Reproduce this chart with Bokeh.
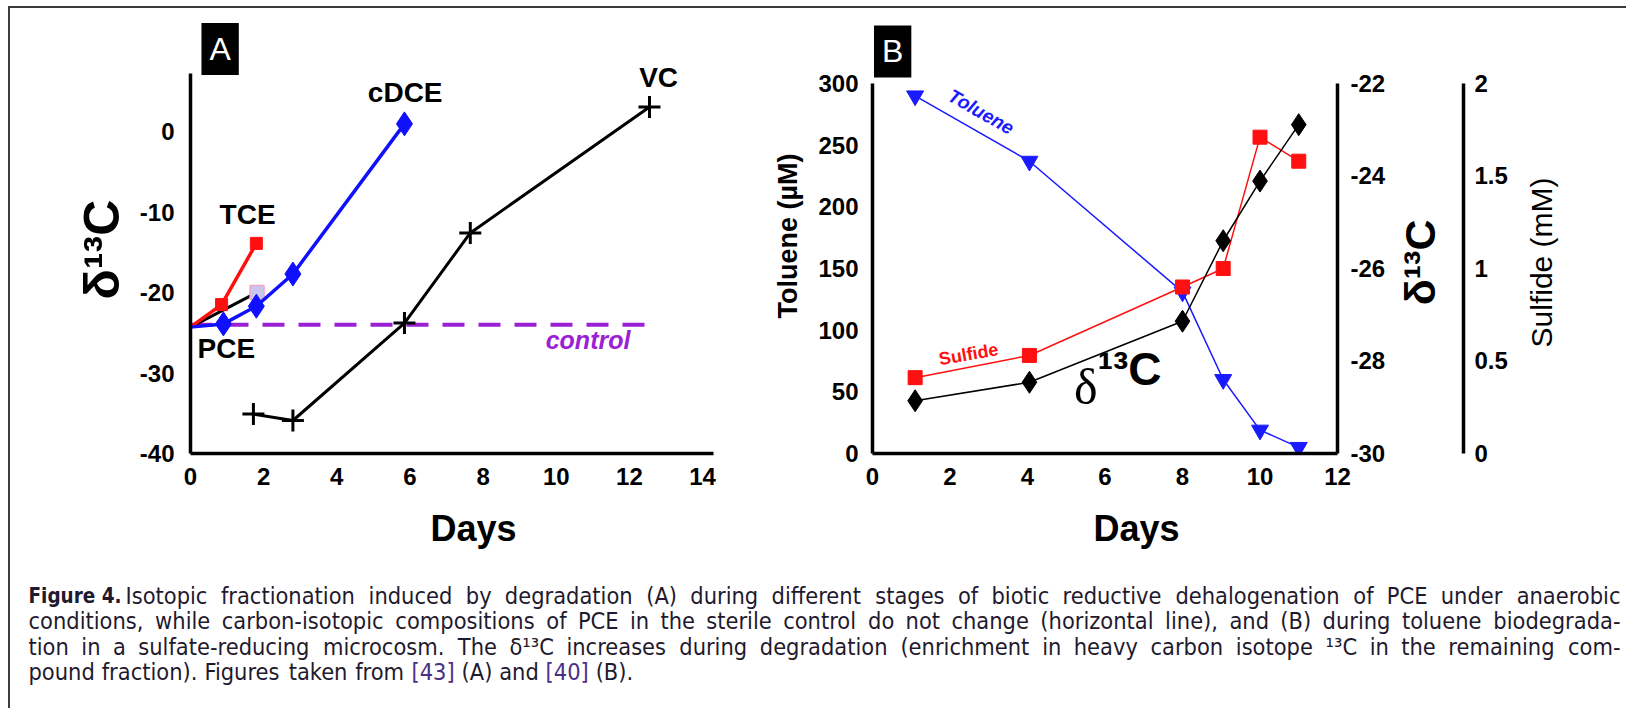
import math
from bokeh.plotting import figure
from bokeh.models import Range1d, LinearAxis, Label
from bokeh.layouts import row, column
from bokeh.embed import file_html
from bokeh.resources import INLINE
from bokeh.core.properties import value

SANS = "Liberation Sans"
CAPF = "DejaVu Sans Condensed"

# ---------------- Panel A data ----------------
a_x_ticks = [0, 2, 4, 6, 8, 10, 12, 14]
a_y_ticks = [-40, -30, -20, -10, 0]
tce_days = [0.0, 0.85, 1.8]
tce_d13c = [-24.3, -21.5, -13.9]
pce_days = [0.0, 1.82]
pce_d13c = [-24.3, -20.0]
cdce_days = [0.0, 0.9, 1.8, 2.8, 5.85]
cdce_d13c = [-24.3, -23.9, -21.7, -17.7, 0.95]
vc_days = [1.72, 2.8, 5.85, 7.65, 12.55]
vc_d13c = [-35.1, -35.9, -23.8, -12.6, 3.05]
control_days = [0.0, 12.72]
control_d13c = [-24.0, -24.0]

# ---------------- Panel B data ----------------
b_x_ticks = [0, 2, 4, 6, 8, 10, 12]
toluene_ticks = [0, 50, 100, 150, 200, 250, 300]
d13c_ticks = [-30, -28, -26, -24, -22]
sulfide_ticks = [0, 0.5, 1, 1.5, 2]
b_days = [1.1, 4.05, 8.0, 9.05, 10.0, 11.0]
toluene_uM = [290, 237, 131, 60, 19, 5]
sulfide_mM = [0.41, 0.53, 0.90, 1.00, 1.71, 1.58]
d13c_b = [-28.86, -28.46, -27.14, -25.40, -24.11, -22.89]

caption_bold = "Figure 4."
caption_lines = [
    "Isotopic fractionation induced by degradation (A) during different stages of biotic reductive dehalogenation of PCE under anaerobic",
    "conditions, while carbon-isotopic compositions of PCE in the sterile control do not change (horizontal line), and (B) during toluene biodegrada-",
    "tion in a sulfate-reducing microcosm. The \u03b4\u00b9\u00b3C increases during degradation (enrichment in heavy carbon isotope \u00b9\u00b3C in the remaining com-",
    "pound fraction). Figures taken from [43] (A) and [40] (B).",
]
caption_refs = ["[43]", "[40]"]

# shared vertical geometry (px)
PANEL_H = 500
BORDER_TOP = 10
BORDER_BOTTOM = 55
A_YRANGE = (-40, 14.04)
B_TRANGE = (0, 352.7)

# approximate advance widths (em) of DejaVu Sans, used to set the words of the justified caption
EM = {" ": .318, "a": .613, "b": .635, "c": .550, "d": .635, "e": .615, "f": .352, "g": .635,
      "h": .634, "i": .278, "j": .278, "k": .579, "l": .278, "m": .974, "n": .634, "o": .612,
      "p": .635, "q": .635, "r": .411, "s": .521, "t": .392, "u": .634, "v": .592, "w": .818,
      "x": .592, "y": .592, "z": .525, "A": .684, "B": .686, "C": .698, "D": .770, "E": .632,
      "F": .575, "G": .775, "H": .752, "I": .295, "L": .557, "M": .863, "N": .748, "O": .787,
      "P": .603, "R": .695, "S": .635, "T": .611, ".": .318, ",": .318, "(": .390, ")": .390,
      "[": .390, "]": .390, "-": .361, "\u00b9": .401, "\u00b3": .401, "\u03b4": .612}


def em(s):
    return sum(EM.get(c, .636) for c in s)


def hyphen_labels(ticks):
    return {t: str(t) for t in ticks}


def style_axis(ax, standoff):
    ax.axis_line_width = 3.5
    ax.axis_line_color = "black"
    ax.major_tick_line_color = None
    ax.minor_tick_line_color = None
    ax.major_tick_out = 0
    ax.major_tick_in = 0
    ax.minor_tick_out = 0
    ax.minor_tick_in = 0
    ax.major_label_text_font = SANS
    ax.major_label_text_font_style = "bold"
    ax.major_label_text_font_size = "24px"
    ax.major_label_text_color = "black"
    ax.major_label_standoff = standoff
    ax.axis_label_text_font = SANS
    ax.axis_label_text_font_style = "bold"
    ax.axis_label_text_color = "black"


def base_fig(**kw):
    p = figure(output_backend="svg", toolbar_location=None, title=None, **kw)
    p.outline_line_color = None
    p.grid.grid_line_color = None
    p.background_fill_color = "white"
    p.border_fill_color = "white"
    return p


def blank_fig(width, x_end, y_range, left=0, right=0):
    return base_fig(width=width, height=PANEL_H, x_range=Range1d(0, x_end), y_range=Range1d(*y_range),
                    x_axis_type=None, y_axis_type=None, min_border_left=left, min_border_right=right,
                    min_border_top=BORDER_TOP, min_border_bottom=BORDER_BOTTOM)


# ================= y title of panel A =================
p0 = blank_fig(125, 125, A_YRANGE)
p0.add_layout(Label(x=91, y=-14.66, text="\u03b4\u00b9\u00b3C", angle=math.pi / 2,
                    text_align="center", text_baseline="middle", text_font=SANS,
                    text_font_style="bold", text_font_size="50px", text_color="black"))

# ================= Panel A =================
pA = base_fig(width=635, height=PANEL_H, x_range=Range1d(0, 14.3), y_range=Range1d(*A_YRANGE),
              min_border_left=55, min_border_right=57, min_border_top=BORDER_TOP,
              min_border_bottom=BORDER_BOTTOM)
style_axis(pA.xaxis[0], 14)
style_axis(pA.yaxis[0], 16)
pA.xaxis.ticker = a_x_ticks
pA.yaxis.ticker = a_y_ticks
pA.yaxis.bounds = (-40, 7.2)
pA.yaxis.major_label_overrides = hyphen_labels(a_y_ticks)

pA.line(control_days, control_d13c, line_color="#9b22d4", line_width=4, line_dash="22 14")
pA.line(vc_days, vc_d13c, line_color="black", line_width=3)
pA.scatter(vc_days, vc_d13c, marker="cross", size=22, line_color="black", line_width=3)
pA.line(pce_days, pce_d13c, line_color="black", line_width=3)
pA.scatter(pce_days[1:], pce_d13c[1:], marker="square", size=14,
           fill_color="#c9c6f0", line_color="#f0a8c8", line_width=1.5)
pA.line(tce_days, tce_d13c, line_color="#ff1010", line_width=3.5)
pA.scatter(tce_days[1:], tce_d13c[1:], marker="square", size=12,
           fill_color="#ff1010", line_color="#ff1010")
pA.line(cdce_days, cdce_d13c, line_color="#1010ff", line_width=3.5)
pA.scatter(cdce_days[1:], cdce_d13c[1:], marker="diamond", size=24,
           fill_color="#1010ff", line_color="#1010ff")

for txt, x, y in [("TCE", 1.56, -10.3), ("cDCE", 5.87, 4.8), ("VC", 12.8, 6.75), ("PCE", 0.98, -26.9)]:
    pA.add_layout(Label(x=x, y=y, text=txt, text_align="center", text_baseline="middle",
                        text_font=SANS, text_font_style="bold", text_font_size="28px",
                        text_color="black"))
pA.add_layout(Label(x=10.87, y=-25.9, text="control", text_align="center", text_baseline="middle",
                    text_font=SANS, text_font_style="bold italic", text_font_size="25px",
                    text_color="#9b22d4"))
pA.add_layout(Label(x=0.81, y=10.25, text="A", text_align="center", text_baseline="middle",
                    text_font=SANS, text_font_size="32px", text_color="white",
                    background_fill_color="black", padding=8))

# ================= Panel B =================
pB = base_fig(width=619, height=PANEL_H, x_range=Range1d(0, 12), y_range=Range1d(*B_TRANGE),
              min_border_left=102, min_border_right=52, min_border_top=BORDER_TOP,
              min_border_bottom=BORDER_BOTTOM)
pB.extra_y_ranges = {"d13c": Range1d(-30, -20.595), "sulfide": Range1d(0, 2.3513)}
style_axis(pB.xaxis[0], 14)
style_axis(pB.yaxis[0], 14)
pB.xaxis.ticker = b_x_ticks
pB.yaxis.ticker = toluene_ticks
pB.yaxis.bounds = (0, 300)
pB.yaxis.axis_label = "Toluene (\u00b5M)"
pB.yaxis.axis_label_text_font_size = "27px"
pB.yaxis.axis_label_standoff = 12

ax_d = LinearAxis(y_range_name="d13c", ticker=d13c_ticks, bounds=(-30, -22))
style_axis(ax_d, 13)
ax_d.major_label_overrides = hyphen_labels(d13c_ticks)
pB.add_layout(ax_d, "right")

pB.line(b_days, toluene_uM, line_color="#1a1aff", line_width=1.5)
pB.scatter(b_days, toluene_uM, marker="inverted_triangle", size=17,
           fill_color="#1a1aff", line_color="#1a1aff")
pB.line(b_days, sulfide_mM, y_range_name="sulfide", line_color="#ff1010", line_width=1.5)
pB.scatter(b_days, sulfide_mM, y_range_name="sulfide", marker="square", size=14,
           fill_color="#ff1010", line_color="#ff1010")
pB.line(b_days, d13c_b, y_range_name="d13c", line_color="black", line_width=1.5)
pB.scatter(b_days, d13c_b, y_range_name="d13c", marker="diamond", size=22,
           fill_color="black", line_color="black")

pB.add_layout(Label(x=2.8, y=277, text="Toluene", text_align="center", text_baseline="middle",
                    angle=-0.516, text_font=SANS, text_font_style="bold italic",
                    text_font_size="19px", text_color="#1a1aff"))
pB.add_layout(Label(x=2.48, y=80.4, text="Sulfide", text_align="center", text_baseline="middle",
                    angle=0.17, text_font=SANS, text_font_style="bold",
                    text_font_size="18px", text_color="#ff1010"))
pB.add_layout(Label(x=5.81, y=54.3, text="\u03b4", text_align="right", text_baseline="middle",
                    text_font="Liberation Serif", text_font_size="50px", text_color="black"))
pB.add_layout(Label(x=5.81, y=68.2, text="\u00b9\u00b3C", text_align="left", text_baseline="middle",
                    text_font=SANS, text_font_style="bold", text_font_size="46px", text_color="black"))
pB.add_layout(Label(x=0.52, y=326, text="B", text_align="center", text_baseline="middle",
                    text_font=SANS, text_font_size="32px", text_color="white",
                    background_fill_color="black", padding=8))

# ================= delta-13C title + sulfide axis =================
pR = blank_fig(122, 74, B_TRANGE, left=0, right=48)
pR.extra_y_ranges = {"sulfide": Range1d(0, 2.3513)}
ax_s = LinearAxis(y_range_name="sulfide", ticker=sulfide_ticks, bounds=(0, 2))
style_axis(ax_s, 11)
ax_s.major_label_overrides = {0: "0", 0.5: "0.5", 1: "1", 1.5: "1.5", 2: "2"}
pR.add_layout(ax_s, "right")
pR.add_layout(Label(x=30, y=154.9, text="\u03b4\u00b9\u00b3C", angle=math.pi / 2,
                    text_align="center", text_baseline="middle", text_font=SANS,
                    text_font_style="bold", text_font_size="43px", text_color="black"))

# ================= sulfide title =================
pS = blank_fig(115, 115, B_TRANGE)
pS.add_layout(Label(x=30, y=154.9, text="Sulfide (mM)", angle=math.pi / 2,
                    text_align="center", text_baseline="middle", text_font=SANS,
                    text_font_size="30px", text_color="black"))

# ================= x titles + caption =================
pC = base_fig(width=1616, height=200, x_range=Range1d(0, 1616), y_range=Range1d(200, 0),
              x_axis_type=None, y_axis_type=None,
              min_border_left=0, min_border_right=0, min_border_top=0, min_border_bottom=0)
pC.text(x=[463, 1126], y=[20, 20], text=["Days", "Days"], text_font=value(SANS),
        text_font_style="bold", text_font_size="36px", text_color="black",
        text_baseline="middle", text_align="center")

CAP_PX = 23.4
cap_left = 18
cap_right = 1610
cap_first = 115
cap_y = [87, 112.5, 138, 163.5]
# scale of the width table, from the measured width of the second caption line at 23.5px
k_em = 1506.0 / ((em(caption_lines[1]) - EM[" "]) * 23.5)

pC.text(x=[cap_left], y=[cap_y[0]], text=[caption_bold], text_font=value(CAPF),
        text_font_style="bold", text_font_size="20.5px", text_color="#1f1a2e",
        text_baseline="middle", text_align="left")

wx, wy, wt, wa, rx, ry, rt = [], [], [], [], [], [], []
for i, line in enumerate(caption_lines):
    words = line.split(" ")
    x0 = cap_first if i == 0 else cap_left
    widths = [em(w) * CAP_PX * k_em for w in words]
    justified = i < len(caption_lines) - 1
    if justified:
        gap = (cap_right - x0 - sum(widths)) / (len(words) - 1)
    else:
        gap = EM[" "] * CAP_PX * k_em
    x = x0
    for j, (w, wd) in enumerate(zip(words, widths)):
        last = justified and j == len(words) - 1
        px = cap_right if last else x
        if w in caption_refs:
            rx.append(px); ry.append(cap_y[i]); rt.append(w)
        else:
            wx.append(px); wy.append(cap_y[i]); wt.append(w); wa.append("right" if last else "left")
        x += wd + gap

pC.text(x=wx, y=wy, text=wt, text_align=wa, text_font=value(CAPF), text_font_size=f"{CAP_PX}px",
        text_color="#1f1a2e", text_baseline="middle")
pC.text(x=rx, y=ry, text=rt, text_align="left", text_font=value(CAPF), text_font_size=f"{CAP_PX}px",
        text_color="#4a2f86", text_baseline="middle")

top = row(p0, pA, pB, pR, pS)
layout = column(top, pC, margin=(6, 0, 0, 8),
                styles={"border-top": "2px solid #3c3c3c", "border-left": "2px solid #3c3c3c"})

open("out.html", "w").write(file_html(layout, INLINE))
